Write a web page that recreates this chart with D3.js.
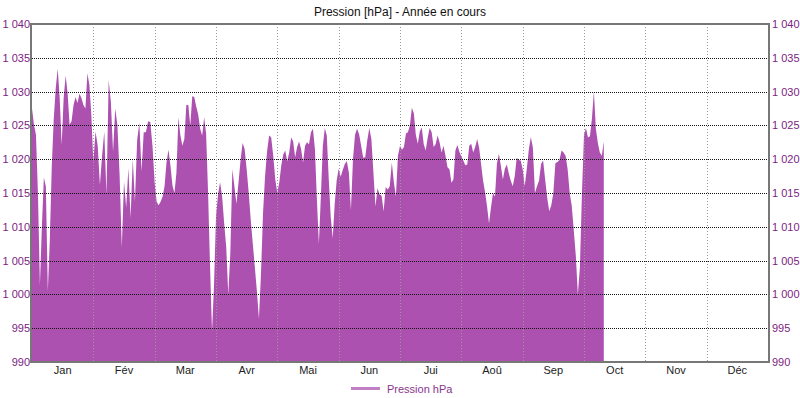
<!doctype html>
<html>
<head>
<meta charset="utf-8">
<style>
  body { margin: 0; background: #fff; }
  svg text { font-family: "Liberation Sans", Arial, sans-serif; }
</style>
</head>
<body>
  <svg id="chart"></svg>
<script src="https://cdn.jsdelivr.net/npm/d3@7/dist/d3.min.js"></script>
<script>
// month labels and lengths (2025)
const mois = ["Jan", "Fév", "Mar", "Avr", "Mai", "Jun", "Jui", "Aoû", "Sep", "Oct", "Nov", "Déc"];
const joursParMois = [31, 28, 31, 30, 31, 30, 31, 31, 30, 31, 30, 31];
const yTicks = [990, 995, 1000, 1005, 1010, 1015, 1020, 1025, 1030, 1035, 1040];

// daily pressure (hPa), one array per month
const pJan = [1027.5, 1025.1, 1023.6, 1015, 1001.4, 1010, 1017.3, 1016, 1000.5, 1008, 1019, 1026, 1030.5, 1033.4, 1029, 1022.1,
  1029, 1032.4, 1029.8, 1025.1, 1025.6, 1028, 1029.2, 1028.3, 1029.7, 1029, 1028, 1027.5, 1032.7, 1031, 1026.5];
const pFev = [1019.6, 1024.1, 1022, 1016.2, 1020.5, 1024.1, 1014.7, 1031.7, 1028.5, 1021.1, 1027.5, 1025, 1017.6, 1006.9,
  1016.7, 1012.8, 1018.7, 1011.3, 1020, 1013.7, 1022.8, 1025.4, 1018.2, 1024, 1024, 1025.6, 1025.5, 1022];
const pMar = [1016.5, 1013.7, 1013.2, 1013.7, 1014.5, 1016, 1019.6, 1021.4, 1019, 1016.1, 1015, 1018, 1026.2, 1023.5, 1022,
  1023, 1028, 1028, 1025, 1029.3, 1029.2, 1027.8, 1026.6, 1024.5, 1023.5, 1026.2, 1023.8, 1015, 1004, 994.5, 1001.4];
const pAvr = [1011.5, 1014.8, 1016.6, 1014.5, 1010.5, 1007, 1000, 1006, 1018.5, 1016, 1013.4, 1016.5, 1019.8, 1022.4, 1021.5,
  1018.5, 1015, 1011, 1007.5, 1004, 1000.5, 996.4, 1003, 1012, 1017.5, 1021.2, 1023.5, 1023.2, 1020.5, 1017];
const pMai = [1015, 1016.6, 1019.1, 1020.7, 1021.3, 1019.7, 1021, 1023.2, 1022.6, 1020.3, 1021.8, 1022.6, 1021.5, 1019.5,
  1022, 1022.5, 1022.2, 1024, 1024.5, 1021.5, 1014, 1007.5, 1014.5, 1022, 1024.6, 1023.5, 1017, 1011.4, 1008.3, 1013.4, 1016.9];
const pJun = [1018.6, 1017.4, 1018.4, 1019.3, 1019.7, 1018, 1012.5, 1020, 1023.6, 1024.5, 1023.7, 1022, 1020.2, 1020.3,
  1022.8, 1024.6, 1023, 1018, 1013, 1015.7, 1014.8, 1014.6, 1012.3, 1015.9, 1015.5, 1016, 1019.5, 1016.6, 1014.5, 1020.5];
const pJui = [1022, 1021.4, 1021.8, 1023.8, 1024, 1025, 1027.6, 1026.8, 1023.6, 1022.3, 1024.1, 1024.7, 1022.2, 1021.3,
  1023.2, 1024.6, 1024, 1021.8, 1022.2, 1023.5, 1022.5, 1021, 1022, 1020.5, 1018.8, 1018.5, 1016.5, 1017, 1021.3, 1022.1, 1021.1];
const pAou = [1020.4, 1019.8, 1019.1, 1019.2, 1022, 1022.3, 1021, 1021.8, 1023, 1021.7, 1019.2, 1016.8, 1015.1, 1013, 1010.5,
  1012.9, 1015, 1014.5, 1019.4, 1020.8, 1019, 1017, 1018.6, 1019.2, 1017.9, 1016.8, 1016, 1017.5, 1020.2, 1019.9, 1019.8];
const pSep = [1018.5, 1016, 1018.5, 1021.4, 1023.3, 1021.7, 1015, 1016, 1016.8, 1019.3, 1019.8, 1017, 1014.3, 1012.3, 1013.2,
  1015, 1019.4, 1019.6, 1019.9, 1021.3, 1021, 1020.5, 1018.5, 1015, 1013.1, 1009.5, 1005.7, 1000, 1004, 1015];
const pOct = [1023.6, 1024.6, 1023.2, 1023.4, 1026, 1030, 1024.5, 1022.4, 1021, 1020.5, 1022.6];

const parMois = [pJan, pFev, pMar, pAvr, pMai, pJun, pJui, pAou, pSep, pOct];

const data = [];
parMois.forEach((vals, m) => {
  vals.forEach((v, i) => data.push({ pos: m + i / joursParMois[m], v: v }));
});

const W = 800, H = 398;
const pLeft = 32, pRight = 768, pTop = 24, pBottom = 362;

const svg = d3.select("#chart").attr("width", W).attr("height", H);

const x = d3.scaleLinear().domain([0, 12]).range([pLeft, pRight]);
const y = d3.scaleLinear().domain([990, 1040]).range([pBottom, pTop]);

// area
const area = d3.area()
  .x(d => x(d.pos))
  .y0(y(990))
  .y1(d => y(d.v));

svg.append("path")
  .datum(data)
  .attr("d", area)
  .attr("fill", "#ad51b0");

// horizontal grid
svg.append("g")
  .selectAll("line")
  .data(yTicks.filter(t => t > 990 && t < 1040))
  .enter()
  .append("line")
  .attr("x1", pLeft).attr("x2", pRight)
  .attr("y1", d => Math.round(y(d)) + 0.5).attr("y2", d => Math.round(y(d)) + 0.5)
  .attr("stroke", "#111")
  .attr("stroke-width", 1)
  .attr("stroke-dasharray", "1,1");

// vertical grid (month boundaries)
svg.append("g")
  .selectAll("line")
  .data(d3.range(1, 12))
  .enter()
  .append("line")
  .attr("x1", d => Math.round(x(d)) + 0.5).attr("x2", d => Math.round(x(d)) + 0.5)
  .attr("y1", pTop).attr("y2", pBottom)
  .attr("stroke", "#999")
  .attr("stroke-width", 1)
  .attr("stroke-dasharray", "1,2");

// frame
svg.append("rect")
  .attr("x", pLeft - 1).attr("y", pTop)
  .attr("width", pRight - pLeft + 2).attr("height", pBottom - pTop)
  .attr("fill", "none")
  .attr("stroke", "#777")
  .attr("stroke-width", 2);

// y labels both sides
const fmt = d => d >= 1000 ? "1 " + String(d).slice(1) : String(d);
svg.append("g")
  .selectAll("text")
  .data(yTicks)
  .enter()
  .append("text")
  .attr("x", pLeft - 2)
  .attr("y", d => y(d) + 4)
  .attr("text-anchor", "end")
  .attr("font-size", 11)
  .attr("fill", "#7d237f")
  .text(fmt);

svg.append("g")
  .selectAll("text")
  .data(yTicks)
  .enter()
  .append("text")
  .attr("x", pRight + 4)
  .attr("y", d => y(d) + 4)
  .attr("text-anchor", "start")
  .attr("font-size", 11)
  .attr("fill", "#7d237f")
  .text(fmt);

// month labels
svg.append("g")
  .selectAll("text")
  .data(mois)
  .enter()
  .append("text")
  .attr("x", (d, i) => x(i + 0.5))
  .attr("y", pBottom + 12)
  .attr("text-anchor", "middle")
  .attr("font-size", 11)
  .attr("fill", "#222")
  .text(d => d);

// title
svg.append("text")
  .attr("x", W / 2)
  .attr("y", 16)
  .attr("text-anchor", "middle")
  .attr("font-size", 12)
  .attr("fill", "#111")
  .text("Pression [hPa] - Année en cours");

// legend
svg.append("line")
  .attr("x1", 351).attr("x2", 380)
  .attr("y1", 388.5).attr("y2", 388.5)
  .attr("stroke", "#c17fc4")
  .attr("stroke-width", 3);

svg.append("text")
  .attr("x", 387)
  .attr("y", 392.5)
  .attr("font-size", 11)
  .attr("fill", "#8a358d")
  .text("Pression hPa");
</script>
</body>
</html>
